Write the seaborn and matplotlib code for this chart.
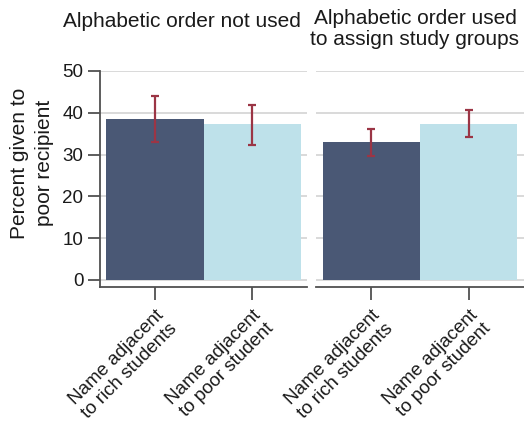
import matplotlib
matplotlib.use("Agg")
import matplotlib.pyplot as plt
import seaborn as sns
import pandas as pd

# Group means and 95% CI bounds, percent given to the poor recipient
panels = ["Alphabetic order not used", "Alphabetic order used\nto assign study groups"]
conditions = ["Name adjacent\nto rich students", "Name adjacent\nto poor student"]
means_not_used = [38.4, 37.2]
lower_not_used = [33.0, 32.4]
upper_not_used = [44.0, 41.8]
means_used = [32.9, 37.4]
lower_used = [29.6, 34.2]
upper_used = [36.1, 40.6]

bar_colors = ["#4a5875", "#bee1ea"]
err_color = "#9b3545"
grid_color = "#d0d0d0"
axis_color = "#505050"
text_color = "#1a1a1a"

sns.set_theme(style="white")
plt.rcParams["font.family"] = ["Liberation Sans", "DejaVu Sans"]
plt.rcParams["text.color"] = text_color
plt.rcParams["axes.labelcolor"] = text_color
plt.rcParams["xtick.color"] = axis_color
plt.rcParams["ytick.color"] = axis_color

fig = plt.figure(figsize=(5.24, 4.23), dpi=100)
W, H = 524, 423
bottom = 1 - 287 / H
height = 216 / H
ax_left = fig.add_axes([100 / W, bottom, 207 / W, height])
ax_right = fig.add_axes([316 / W, bottom, 208 / W, height])

series = [
    (ax_left, means_not_used, lower_not_used, upper_not_used),
    (ax_right, means_used, lower_used, upper_used),
]

for i, (ax, means, lo, hi) in enumerate(series):
    df = pd.DataFrame({"condition": conditions, "percent": means})
    ax.set_axisbelow(True)
    for yv in range(0, 51, 10):
        ax.axhline(yv, color=grid_color, lw=1.1, zorder=0)
    sns.barplot(data=df, x="condition", y="percent", hue="condition",
                palette=bar_colors, width=1.0, errorbar=None,
                legend=False, ax=ax, saturation=1, linewidth=0, zorder=2)
    xs = list(range(len(conditions)))
    yerr = [[m - l for m, l in zip(means, lo)], [h - m for m, h in zip(means, hi)]]
    ax.errorbar(xs, means, yerr=yerr, fmt="none", ecolor=err_color,
                elinewidth=1.6, capsize=2.6, capthick=1.6, zorder=3)
    ax.set_xlim(-0.567, 1.567)
    ax.set_ylim(-1.68, 50)
    ax.set_xlabel("")
    ax.set_ylabel("")
    for side in ["top", "right"]:
        ax.spines[side].set_visible(False)
    ax.spines["bottom"].set_color(axis_color)
    ax.spines["bottom"].set_linewidth(1.3)
    ax.tick_params(axis="x", bottom=True, length=9, width=1.3,
                   direction="out", pad=5)
    ax.set_xticks(xs)
    ax.set_xticklabels(conditions, rotation=45, ha="right",
                       rotation_mode="anchor", fontsize=13.5,
                       multialignment="center", linespacing=1.15,
                       color=text_color)
    if i == 0:
        ax.spines["left"].set_color(axis_color)
        ax.spines["left"].set_linewidth(1.3)
        ax.spines["left"].set_bounds(-1.68, 50)
        ax.set_yticks(range(0, 51, 10))
        ax.tick_params(axis="y", left=True, length=9, width=1.3,
                       direction="out", pad=3, labelsize=13.5,
                       labelcolor=text_color)
    else:
        ax.spines["left"].set_visible(False)
        ax.set_yticks([])

fig.text(32 / W, 1 - 163 / H, "Percent given to\npoor recipient",
         rotation=90, ha="center", va="center", fontsize=15,
         linespacing=1.45, color=text_color)
fig.text(182 / W, 1 - 27 / H, panels[0], ha="center", va="baseline",
         fontsize=15, color=text_color)
fig.text(415 / W, 1 - 9 / H, panels[1], ha="center", va="top",
         fontsize=15, linespacing=1.12, color=text_color)

fig.savefig("out.png", dpi=100)
